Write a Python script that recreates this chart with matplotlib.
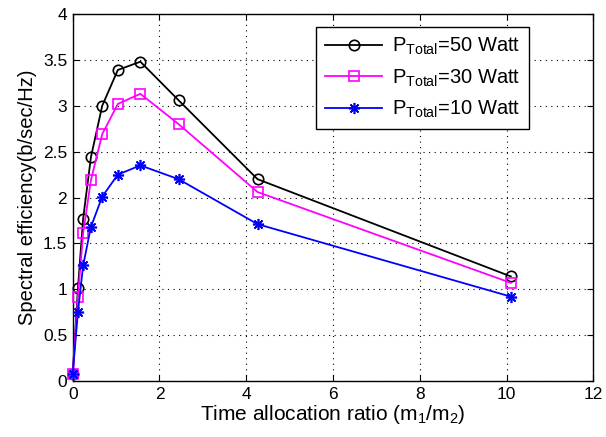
import numpy as np
import matplotlib
matplotlib.use('Agg')
import matplotlib.pyplot as plt

plt.rcParams['font.family'] = ['Liberation Sans', 'DejaVu Sans']
plt.rcParams['mathtext.fontset'] = 'custom'
plt.rcParams['mathtext.rm'] = 'Liberation Sans'
plt.rcParams['mathtext.it'] = 'Liberation Sans'

# Werte
ratio = [0.0, 0.12, 0.24, 0.42, 0.68, 1.04, 1.56, 2.44, 4.26, 10.1]
se_50 = [0.08, 1.01, 1.77, 2.44, 3.00, 3.39, 3.48, 3.06, 2.20, 1.14]
se_30 = [0.08, 0.92, 1.61, 2.19, 2.69, 3.02, 3.13, 2.80, 2.06, 1.07]
se_10 = [0.08, 0.75, 1.26, 1.68, 2.01, 2.25, 2.35, 2.20, 1.71, 0.92]
labels = ['P$_{\\mathrm{Total}}$=50 Watt', 'P$_{\\mathrm{Total}}$=30 Watt', 'P$_{\\mathrm{Total}}$=10 Watt']

fig = plt.figure(figsize=(6.06, 4.37), dpi=100)
ax = fig.add_axes([0.120, 0.128, 0.859, 0.840])

ax.plot(ratio, se_50, '-o', color='black', lw=1.3, ms=7.5, mfc='none', mew=1.2,
        label=labels[0], clip_on=False, zorder=3)
ax.plot(ratio, se_30, '-s', color='magenta', lw=1.3, ms=6.5, mfc='none', mew=1.2,
        label=labels[1], clip_on=False, zorder=3)
# MATLAB-Sternchen: + und x uebereinander
ax.plot(ratio, se_10, '-', color='blue', lw=1.3, marker=(8, 2, 0), ms=8, mew=1.2,
        label=labels[2], clip_on=False, zorder=3)

ax.set_xlim(0, 12)
ax.set_ylim(0, 4)
ax.set_xticks(np.arange(0, 13, 2))
ax.set_yticks(np.arange(0, 4.01, 0.5))
ax.set_yticklabels(['0', '0.5', '1', '1.5', '2', '2.5', '3', '3.5', '4'])
ax.grid(True, linestyle=(0, (1, 4)), color='black', lw=0.8)
ax.tick_params(direction='in', top=True, right=True, labelsize=12.5, length=4, pad=4)
for s in ax.spines.values():
    s.set_linewidth(1.0)

ax.set_xlabel('Time allocation ratio (m$_1$/m$_2$)', fontsize=15, labelpad=1)
ax.set_ylabel('Spectral efficiency(b/sec/Hz)', fontsize=14.5, labelpad=4)

leg = ax.legend(loc='upper right', bbox_to_anchor=(0.877, 0.965), borderaxespad=0,
                fontsize=14.5, handlelength=2.8, fancybox=False, edgecolor='black',
                framealpha=1, borderpad=0.45, labelspacing=0.5, handletextpad=0.5)
leg.get_frame().set_linewidth(1.0)

fig.savefig('out.png', dpi=100)
